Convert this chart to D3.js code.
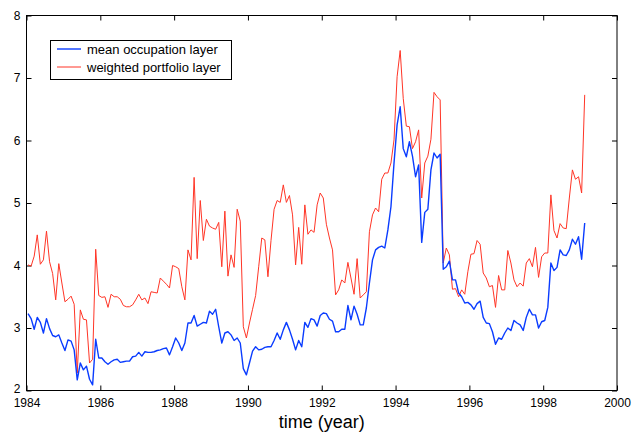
<!DOCTYPE html>
<html>
<head>
<meta charset="utf-8">
<script src="https://cdn.jsdelivr.net/npm/d3@7"></script>
<style>
  html, body { margin: 0; padding: 0; background: #fff; }
  svg { display: block; font-family: "Liberation Sans", Arial, Helvetica, sans-serif; }
</style>
</head>
<body>
<svg id="chart" width="640" height="432"></svg>
<script>
// Monthly observations starting January 1984
const startYear = 1984;
const seriesNames = ["mean occupation layer", "weighted portfolio layer"];
const meanOccupation = [
  3.23, 3.15, 2.98, 3.17, 3.09, 2.92, 3.15, 2.99, 2.88, 2.86,
  2.89, 2.76, 2.64, 2.81, 2.79, 2.65, 2.17, 2.44, 2.33, 2.39,
  2.18, 2.09, 2.82, 2.52, 2.52, 2.46, 2.42, 2.46, 2.49, 2.50,
  2.45, 2.46, 2.47, 2.47, 2.54, 2.55, 2.61, 2.55, 2.62, 2.61,
  2.61, 2.62, 2.64, 2.65, 2.67, 2.68, 2.57, 2.70, 2.84, 2.76,
  2.64, 2.76, 3.08, 3.08, 3.20, 3.03, 3.06, 3.09, 3.08, 3.27,
  3.22, 3.30, 3.02, 2.76, 2.92, 2.94, 2.89, 2.80, 2.84, 2.76,
  2.35, 2.25, 2.44, 2.63, 2.70, 2.65, 2.66, 2.69, 2.70, 2.70,
  2.80, 2.92, 2.82, 2.97, 3.09, 2.97, 2.82, 2.65, 2.80, 2.70,
  3.09, 3.01, 3.15, 3.13, 3.03, 3.20, 3.24, 3.23, 3.14, 3.11,
  2.94, 2.94, 2.98, 2.98, 3.36, 3.13, 3.35, 3.22, 3.05, 3.05,
  3.32, 3.72, 4.09, 4.25, 4.29, 4.31, 4.28, 4.57, 4.94, 5.64,
  6.25, 6.54, 5.87, 5.74, 5.98, 5.75, 5.42, 5.61, 4.37, 4.85,
  4.90, 5.53, 5.80, 5.72, 5.78, 3.94, 3.98, 4.07, 3.77, 3.77,
  3.56, 3.50, 3.40, 3.41, 3.37, 3.30, 3.39, 3.43, 3.17, 3.08,
  3.07, 2.94, 2.74, 2.84, 2.82, 2.92, 3.00, 2.96, 3.12, 3.08,
  3.05, 2.96, 3.17, 3.30, 3.21, 3.21, 3.00, 3.10, 3.12, 3.33,
  4.04, 3.92, 3.97, 4.25, 4.17, 4.16, 4.25, 4.42, 4.34, 4.46,
  4.10, 4.68
];
const weightedPortfolio = [
  4.01, 3.99, 4.15, 4.49, 4.02, 4.09, 4.55, 4.06, 3.87, 3.45,
  4.03, 3.72, 3.42, 3.46, 3.51, 3.38, 2.28, 3.29, 3.14, 3.13,
  2.44, 2.50, 4.26, 3.52, 3.49, 3.50, 3.33, 3.54, 3.50, 3.50,
  3.46, 3.36, 3.34, 3.34, 3.37, 3.45, 3.54, 3.45, 3.48, 3.39,
  3.58, 3.57, 3.56, 3.80, 3.75, 3.70, 3.64, 4.00, 3.98, 3.95,
  3.66, 3.45, 4.25, 4.09, 5.41, 4.11, 5.04, 4.40, 4.74, 4.63,
  4.60, 4.58, 4.69, 3.98, 4.87, 3.83, 4.17, 3.97, 4.90, 4.71,
  3.02, 2.84, 3.08, 3.30, 3.52, 3.98, 4.44, 4.41, 3.82, 4.40,
  4.90, 5.04, 5.01, 5.29, 5.01, 5.12, 4.81, 4.01, 4.61, 4.02,
  4.97, 4.50, 4.57, 4.53, 4.97, 5.16, 5.08, 4.66, 4.44, 4.25,
  3.53, 3.61, 3.77, 3.72, 4.05, 3.80, 3.54, 4.11, 3.48, 3.53,
  3.58, 4.54, 4.81, 4.92, 4.86, 5.38, 5.48, 5.48, 5.64, 6.01,
  7.02, 7.44, 6.67, 6.23, 6.22, 5.87, 5.98, 6.17, 5.08, 5.64,
  5.75, 6.02, 6.77, 6.70, 6.65, 4.04, 4.28, 4.17, 3.62, 3.63,
  3.50, 3.61, 3.54, 3.90, 4.18, 4.19, 4.40, 4.34, 3.88, 3.80,
  3.66, 3.68, 3.33, 3.84, 3.61, 3.61, 4.24, 4.04, 3.77, 3.66,
  3.72, 3.67, 4.04, 4.11, 3.98, 4.29, 3.81, 4.14, 4.20, 4.20,
  5.13, 4.56, 4.44, 4.67, 4.60, 4.59, 5.08, 5.53, 5.38, 5.42,
  5.16, 6.73
];
const xTicks = [1984, 1986, 1988, 1990, 1992, 1994, 1996, 1998, 2000];
const yTicks = [2, 3, 4, 5, 6, 7, 8];
const xLabel = "time (year)";

const colors = ["#0a3cff", "#ff3526"];

const svg = d3.select("#chart");
const m = { left: 26.5, right: 617, top: 15.5, bottom: 390.5 };

const x = d3.scaleLinear().domain([1984, 2000]).range([m.left, m.right]);
const y = d3.scaleLinear().domain([2, 8]).range([m.bottom, m.top]);

const timeOf = i => startYear + (i + 0.5) / 12;

// frame
svg.append("rect")
  .attr("x", m.left).attr("y", m.top)
  .attr("width", m.right - m.left).attr("height", m.bottom - m.top)
  .attr("fill", "none").attr("stroke", "#000").attr("stroke-width", 1);

// axes (ticks pointing inward)
const tl = 5;
const xb = svg.append("g").attr("transform", `translate(0,${m.bottom})`)
  .call(d3.axisBottom(x).tickValues(xTicks).tickFormat(d3.format("d")).tickSize(-tl).tickPadding(8));
const xt = svg.append("g").attr("transform", `translate(0,${m.top})`)
  .call(d3.axisTop(x).tickValues(xTicks).tickFormat("").tickSize(-tl));
const yl = svg.append("g").attr("transform", `translate(${m.left},0)`)
  .call(d3.axisLeft(y).tickValues(yTicks).tickFormat(d3.format("d")).tickSize(-tl).tickPadding(6));
const yr = svg.append("g").attr("transform", `translate(${m.right},0)`)
  .call(d3.axisRight(y).tickValues(yTicks).tickFormat("").tickSize(-tl));
[xb, xt, yl, yr].forEach(g => {
  g.select(".domain").remove();
  g.selectAll("line").attr("stroke", "#000");
  g.selectAll("text").attr("fill", "#000").style("font-size", "12px")
    .style("font-family", '"Liberation Sans", Arial, sans-serif');
});
xb.selectAll("text").attr("dy", "0.71em");
yl.selectAll(".tick").filter(d => d === 2).select("text").attr("dy", "0.2em");

// lines
const line = d3.line().x((d, i) => x(timeOf(i))).y(d => y(d));
const series = [meanOccupation, weightedPortfolio];
const widths = [1.4, 1.0];
svg.append("g").selectAll("path")
  .data(series.map((s, k) => ({ s, k })).reverse())
  .join("path")
  .attr("d", d => line(d.s))
  .attr("fill", "none")
  .attr("stroke", d => colors[d.k])
  .attr("stroke-width", d => widths[d.k])
  .attr("stroke-linejoin", "round");

// x label
svg.append("text")
  .attr("x", (m.left + m.right) / 2).attr("y", 428)
  .attr("text-anchor", "middle")
  .style("font-size", "18px")
  .text(xLabel);

// legend
const lg = svg.append("g");
lg.append("rect").attr("x", 50.5).attr("y", 40.5).attr("width", 181).attr("height", 39)
  .attr("fill", "#fff").attr("stroke", "#000").attr("stroke-width", 1);
seriesNames.forEach((name, k) => {
  const yy = 49 + k * 18;
  lg.append("line").attr("x1", 57).attr("x2", 81).attr("y1", yy).attr("y2", yy)
    .attr("stroke", colors[k]).attr("stroke-width", widths[k]);
  lg.append("text").attr("x", 87).attr("y", yy + 4.5)
    .style("font-size", "13px").text(name);
});
</script>
</body>
</html>
